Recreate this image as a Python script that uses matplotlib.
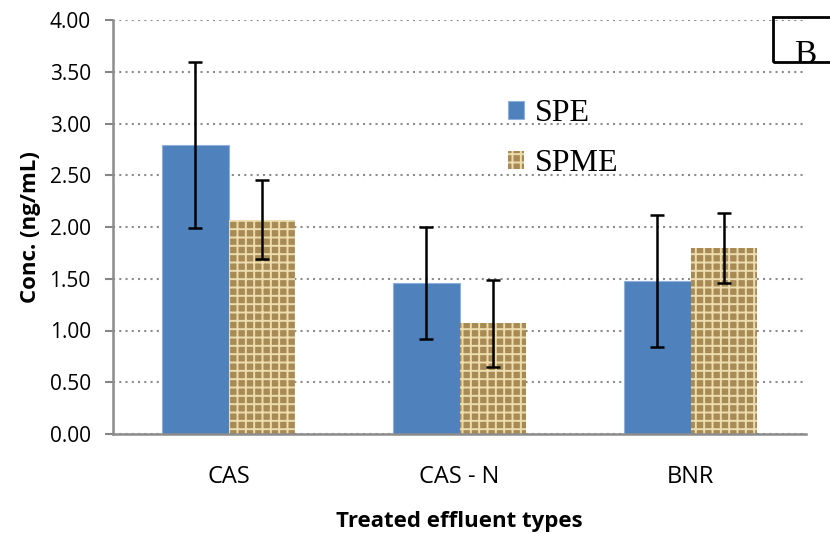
import numpy as np
import matplotlib.pyplot as plt
from matplotlib.patches import Rectangle

# values
categories = ['CAS', 'CAS - N', 'BNR']
spe = [2.79, 1.46, 1.48]
spe_err = [0.80, 0.54, 0.64]
spme = [2.07, 1.07, 1.80]
spme_err = [0.38, 0.42, 0.34]
yticks = [0.0, 0.5, 1.0, 1.5, 2.0, 2.5, 3.0, 3.5, 4.0]

plt.rcParams['font.family'] = ['Open Sans', 'DejaVu Sans']
plt.rcParams['hatch.linewidth'] = 1.4

fig = plt.figure(figsize=(8.3, 5.33), dpi=100)
ax = fig.add_axes([113/830, 1-434/533, 693/830, 414/533])

x = np.arange(len(categories))
w = 0.286
err_kw = dict(ecolor='black', elinewidth=1.8, capsize=4.7, capthick=1.8)
ax.bar(x - w/2, spe, w, yerr=spe_err, color='#4f81bd', edgecolor='#8fb0dc',
       linewidth=0.8, label='SPE', error_kw=err_kw, zorder=2)
ax.bar(x + w/2, spme, w, yerr=spme_err, color='#a88a55', edgecolor='#eddcae',
       linewidth=0, hatch='++', label='SPME', error_kw=err_kw, zorder=2)

ax.set_xlim(-0.5, 2.5)
ax.set_ylim(0, 4.0)
ax.set_yticks(yticks)
ax.set_yticklabels(['%.2f' % v for v in yticks], fontsize=15)
ax.set_xticks(x)
ax.set_xticklabels(categories, fontsize=17)
ax.tick_params(axis='x', length=0, pad=22)
ax.tick_params(axis='y', length=6, width=1.5, color='#868686', pad=10)

ax.grid(axis='y', linestyle=(0, (1, 2)), linewidth=1.5, color='#8c8c8c', zorder=0)
ax.set_axisbelow(True)
for s in ['top', 'right']:
    ax.spines[s].set_visible(False)
for s in ['left', 'bottom']:
    ax.spines[s].set_color('#8c8c8c')
    ax.spines[s].set_linewidth(1.8)

ax.set_ylabel('Conc. (ng/mL)', fontsize=16, fontweight='bold', labelpad=6)
ax.set_xlabel('Treated effluent types', fontsize=16, fontweight='bold', labelpad=16)

leg = ax.legend(loc='upper left', bbox_to_anchor=(0.528, 0.878), frameon=False,
                prop={'family': 'Liberation Serif', 'size': 23},
                handlelength=0.5, handleheight=0.5, handletextpad=0.35,
                labelspacing=0.66)

# "B" panel label box, running off the right edge
fig.patches.append(Rectangle((773/830, 1-62/533), 0.2, 45/533, transform=fig.transFigure,
                             fill=False, linewidth=2, edgecolor='black'))
fig.text(805/830, 1-63/533, 'B', fontsize=24, family='Liberation Serif',
         ha='center', va='baseline')

fig.savefig('out.png', dpi=100)
